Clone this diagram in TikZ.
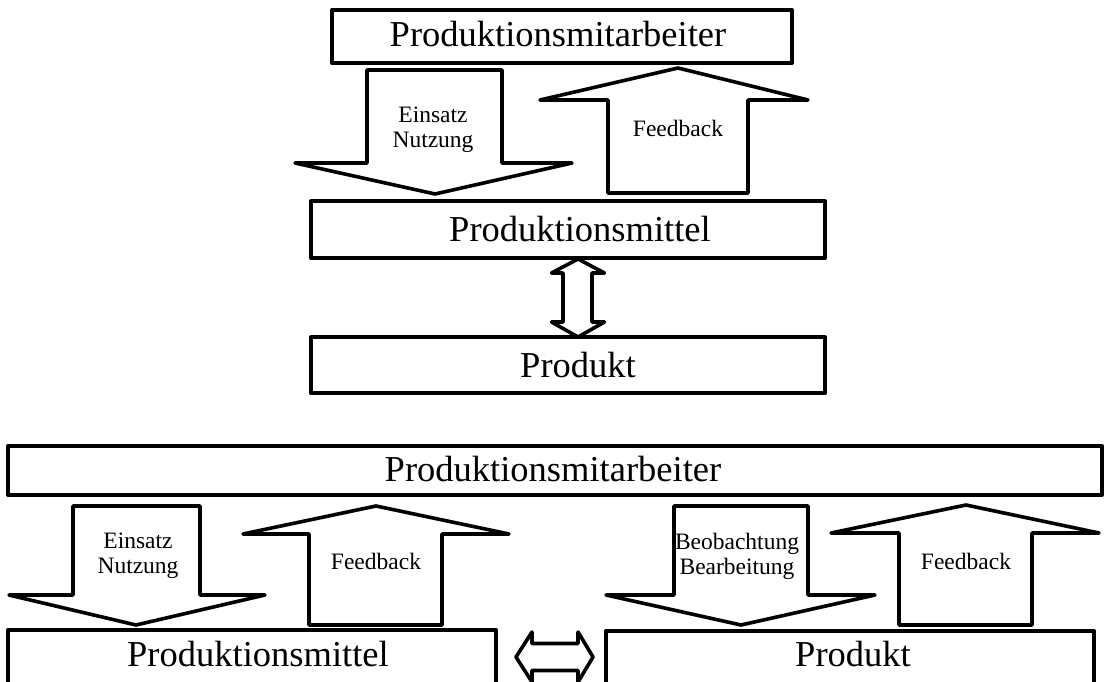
\documentclass[tikz,border=0pt]{standalone}
\usepackage{fontspec}
\setmainfont{Liberation Serif}
\begin{document}
\begin{tikzpicture}[x=1pt,y=-1pt,
  frame/.style={draw, line width=4pt, line join=round, inner sep=0pt},
  blockarrow/.style={draw, line width=3.6pt, line join=round, fill=white},
  big/.style={font=\fontsize{36.5}{40}\selectfont, inner sep=0pt, anchor=base},
  small/.style={font=\fontsize{23.5}{25}\selectfont, align=center, inner sep=0pt}]
\useasboundingbox (0,0) rectangle (1104,682);
\clip (0,0) rectangle (1104,682);

% ---------- upper chain ----------
\node[frame, minimum width=460pt, minimum height=53pt] (ma1) at (562,36.5) {};
\node[big] (ma1t) at (558,47) {Produktionsmitarbeiter};

\node[frame, minimum width=514pt, minimum height=57pt] (pm1) at (568,229.5) {};
\node[big] (pm1t) at (580,241) {Produktionsmittel};

\node[frame, minimum width=514pt, minimum height=56pt] (pr1) at (568,365) {};
\node[big] (pr1t) at (578,377) {Produkt};

% use / deploy (down)
\draw[blockarrow] (367,70) -- (502,70) -- (502,163) -- (572,163) -- (435,194)
  -- (295,163) -- (367,163) -- cycle;
\node[small] (en1) at (433,129.5) {Einsatz\\Nutzung};

% feedback (up)
\draw[blockarrow] (608,193) -- (748,193) -- (748,100) -- (808,100) -- (678,68)
  -- (540,100) -- (608,100) -- cycle;
\node[small, anchor=base] (fb1) at (678,137) {Feedback};

% two-way link between means of production and product
\draw[blockarrow] (578,259) -- (604.5,273) -- (592,273) -- (592,322) -- (604.5,322)
  -- (578,337) -- (551.5,322) -- (563,322) -- (563,273) -- (551.5,273) -- cycle;

% ---------- lower layout ----------
\node[frame, minimum width=1094pt, minimum height=49pt] (ma2) at (555,470.5) {};
\node[big] (ma2t) at (553,481) {Produktionsmitarbeiter};

\node[frame, minimum width=488pt, minimum height=100pt] (pm2) at (252,680) {};
\node[big] (pm2t) at (258,666) {Produktionsmittel};

\node[frame, minimum width=488pt, minimum height=100pt] (pr2) at (850,681) {};
\node[big] (pr2t) at (853,666) {Produkt};

% use / deploy (down, left)
\draw[blockarrow] (73,506) -- (200,506) -- (200,595) -- (265,595) -- (136,625)
  -- (9,595) -- (73,595) -- cycle;
\node[small] (en2) at (138,556) {Einsatz\\Nutzung};

% feedback (up, left)
\draw[blockarrow] (309,625) -- (442,625) -- (442,534) -- (509,534) -- (376,506)
  -- (243,534) -- (309,534) -- cycle;
\node[small, anchor=base] (fb2) at (376,569) {Feedback};

% observation / processing (down, right)
\draw[blockarrow] (674,506) -- (808,506) -- (808,595) -- (875,595) -- (741,625)
  -- (606,595) -- (674,595) -- cycle;
\node[small] (bb2) at (737,556) {Beobachtung\\Bearbeitung};

% feedback (up, right)
\draw[blockarrow] (899,625) -- (1032,625) -- (1032,533) -- (1099,533) -- (966,505)
  -- (831,533) -- (899,533) -- cycle;
\node[small, anchor=base] (fb3) at (966,569) {Feedback};

% two-way link, horizontal
\draw[blockarrow] (516,657) -- (532,632) -- (532,643.5) -- (578,643.5) -- (578,632)
  -- (593,657) -- (578,682) -- (578,670.5) -- (532,670.5) -- (532,682) -- cycle;
\end{tikzpicture}
\end{document}
